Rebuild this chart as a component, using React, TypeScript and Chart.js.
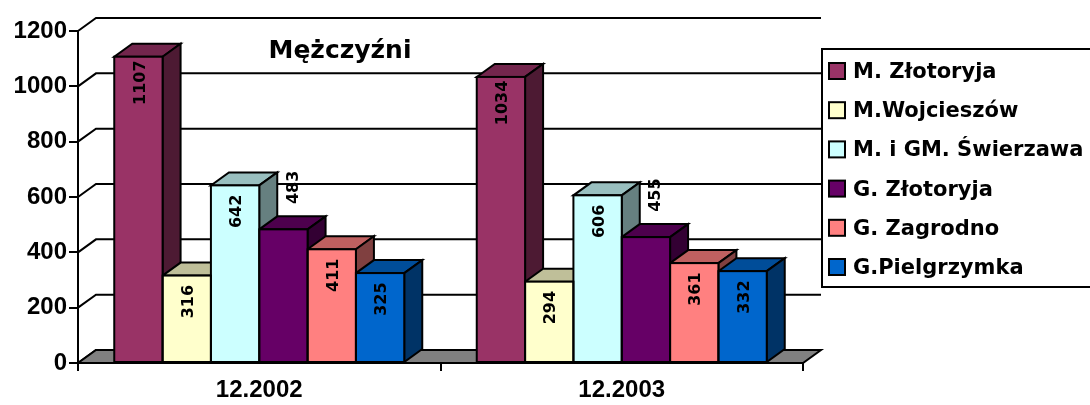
import { useEffect, useRef } from 'react';
import { Chart, registerables } from 'chart.js';

Chart.register(...registerables);

// ---- data ----
const categories = ['12.2002', '12.2003'];
const seriesNames = ['M. Złotoryja', 'M.Wojcieszów', 'M. i GM. Świerzawa', 'G. Złotoryja', 'G. Zagrodno', 'G.Pielgrzymka'];
const mZlotoryja = [1107, 1034];
const mWojcieszow = [316, 294];
const mSwierzawa = [642, 606];
const gZlotoryja = [483, 455];
const gZagrodno = [411, 361];
const gPielgrzymka = [325, 332];
const yTicks = [0, 200, 400, 600, 800, 1000, 1200];
const yTickLabels = ['0', '200', '400', '600', '800', '1000', '1200'];
const chartTitle = 'Mężczyźni';

const seriesValues = [mZlotoryja, mWojcieszow, mSwierzawa, gZlotoryja, gZagrodno, gPielgrzymka];
const seriesColors = ['#993366', '#FFFFCC', '#CCFFFF', '#660066', '#FF8080', '#0066CC'];
// series whose value labels sit above the column
const outsideLabelSeries = [3];

// ---- style ----
const DX = 18;
const DY = -13;
const ARIAL = '"Liberation Sans", Arial, sans-serif';
const DEJAVU = '"DejaVu Sans", sans-serif';

function shade(hex: string, f: number) {
  const n = parseInt(hex.slice(1), 16);
  const r = (n >> 16) & 255, g = (n >> 8) & 255, b = n & 255;
  return `rgb(${Math.round(r * f)},${Math.round(g * f)},${Math.round(b * f)})`;
}

function poly(ctx: CanvasRenderingContext2D, pts: number[][], fill: string) {
  ctx.beginPath();
  ctx.moveTo(pts[0][0], pts[0][1]);
  for (let i = 1; i < pts.length; i++) ctx.lineTo(pts[i][0], pts[i][1]);
  ctx.closePath();
  ctx.fillStyle = fill;
  ctx.fill();
  ctx.stroke();
}

const threeD = {
  id: 'threeD',
  beforeDatasetsDraw(chart: any) {
    const { ctx, chartArea: ca, scales } = chart;
    const y = scales.y;
    ctx.save();
    ctx.lineWidth = 2;
    ctx.strokeStyle = '#000';
    ctx.lineJoin = 'miter';
    // back wall gridlines + side wall diagonals
    for (const v of yTicks) {
      const py = y.getPixelForValue(v);
      ctx.beginPath();
      ctx.moveTo(ca.left, py);
      ctx.lineTo(ca.left + DX, py + DY);
      ctx.lineTo(ca.right + DX, py + DY);
      ctx.stroke();
    }
    // floor
    const b = y.getPixelForValue(0);
    poly(ctx, [[ca.left, b], [ca.right, b], [ca.right + DX, b + DY], [ca.left + DX, b + DY]], '#808080');
    // top + side faces, left to right
    const n = chart.data.datasets.length;
    for (let j = 0; j < categories.length; j++) {
      for (let i = 0; i < n; i++) {
        const el = chart.getDatasetMeta(i).data[j];
        if (!el) continue;
        const { x: bx, y: by, base, width } = el.getProps(['x', 'y', 'base', 'width'], true);
        const l = bx - width / 2, r = bx + width / 2;
        const col = seriesColors[i];
        poly(ctx, [[l, by], [r, by], [r + DX, by + DY], [l + DX, by + DY]], shade(col, 0.75));
        poly(ctx, [[r, by], [r + DX, by + DY], [r + DX, base + DY], [r, base]], shade(col, 0.5));
      }
    }
    ctx.restore();
  },
  afterDatasetsDraw(chart: any) {
    const { ctx } = chart;
    const n = chart.data.datasets.length;
    ctx.save();
    ctx.lineWidth = 2;
    ctx.strokeStyle = '#000';
    for (let i = 0; i < n; i++) {
      chart.getDatasetMeta(i).data.forEach((el: any) => {
        const { x: bx, y: by, base, width } = el.getProps(['x', 'y', 'base', 'width'], true);
        ctx.strokeRect(bx - width / 2, by, width, base - by);
      });
    }
    // value labels
    ctx.fillStyle = '#000';
    ctx.font = `bold 16px ${DEJAVU}`;
    ctx.textAlign = 'center';
    ctx.textBaseline = 'middle';
    for (let i = 0; i < n; i++) {
      const vals = chart.data.datasets[i].data;
      chart.getDatasetMeta(i).data.forEach((el: any, j: number) => {
        const { x: bx, y: by } = el.getProps(['x', 'y'], true);
        const outside = outsideLabelSeries.includes(i);
        ctx.save();
        ctx.translate(outside ? bx + 10 : bx + 2, outside ? by - 42 : by + 26);
        ctx.rotate(-Math.PI / 2);
        ctx.fillText(String(vals[j]), 0, 0);
        ctx.restore();
      });
    }
    ctx.restore();
  },
  afterDraw(chart: any) {
    const { ctx } = chart;
    ctx.save();
    // title
    ctx.fillStyle = '#000';
    ctx.font = `bold 25px ${DEJAVU}`;
    ctx.textAlign = 'center';
    ctx.textBaseline = 'alphabetic';
    ctx.fillText(chartTitle, 340, 58);
    // legend
    const lx = 822, ly = 49, lb = 287;
    ctx.fillStyle = '#fff';
    ctx.fillRect(lx, ly, 300, lb - ly);
    ctx.lineWidth = 2;
    ctx.strokeStyle = '#000';
    ctx.strokeRect(lx, ly, 300, lb - ly);
    ctx.font = `bold 21px ${DEJAVU}`;
    ctx.textAlign = 'left';
    const step = (274 - 78) / (seriesNames.length - 1);
    chart.data.datasets.forEach((ds: any, i: number) => {
      const base = 78 + step * i;
      ctx.fillStyle = ds.backgroundColor;
      ctx.fillRect(829, base - 15, 16, 16);
      ctx.strokeRect(829, base - 15, 16, 16);
      ctx.fillStyle = '#000';
      ctx.fillText(ds.label, 853, base);
    });
    ctx.restore();
  },
};

export default function App() {
  const ref = useRef<HTMLCanvasElement>(null);
  useEffect(() => {
    document.body.style.margin = '0';
    const canvas = ref.current!;
    const chart = new Chart(canvas, {
      type: 'bar',
      data: {
        labels: categories,
        datasets: seriesNames.map((name, i) => ({
          label: name,
          data: seriesValues[i],
          backgroundColor: seriesColors[i],
          borderWidth: 0,
          categoryPercentage: 0.8,
          barPercentage: 1.0,
        })),
      },
      options: {
        animation: false,
        responsive: false,
        devicePixelRatio: 1,
        layout: { padding: { top: 31, right: 287, left: 0, bottom: 0 } },
        plugins: {
          legend: { display: false },
          title: { display: false },
          tooltip: { enabled: false },
        },
        scales: {
          x: {
            offset: true,
            grid: { offset: true, drawOnChartArea: false, drawTicks: true, tickLength: 8, color: '#000', lineWidth: 2 },
            border: { display: true, color: '#000', width: 2 },
            ticks: { color: '#000', font: { family: ARIAL, size: 24, weight: 'bold' }, padding: 5, maxRotation: 0 },
            afterFit: (s: any) => { s.height = 42; },
          },
          y: {
            min: 0,
            max: 1200,
            afterBuildTicks: (s: any) => { s.ticks = yTicks.map((v) => ({ value: v })); },
            grid: { drawOnChartArea: false, drawTicks: true, tickLength: 9, color: '#000', lineWidth: 2 },
            border: { display: true, color: '#000', width: 2 },
            ticks: {
              color: '#000',
              font: { family: ARIAL, size: 24, weight: 'bold' },
              padding: 2,
              callback: (v: any) => yTickLabels[yTicks.indexOf(Number(v))] ?? String(v),
            },
            afterFit: (s: any) => { s.width = 78; },
          },
        },
      } as any,
      plugins: [threeD],
    });
    return () => chart.destroy();
  }, []);
  return <canvas ref={ref} width={1090} height={405} style={{ display: 'block', width: 1090, height: 405 }} />;
}
